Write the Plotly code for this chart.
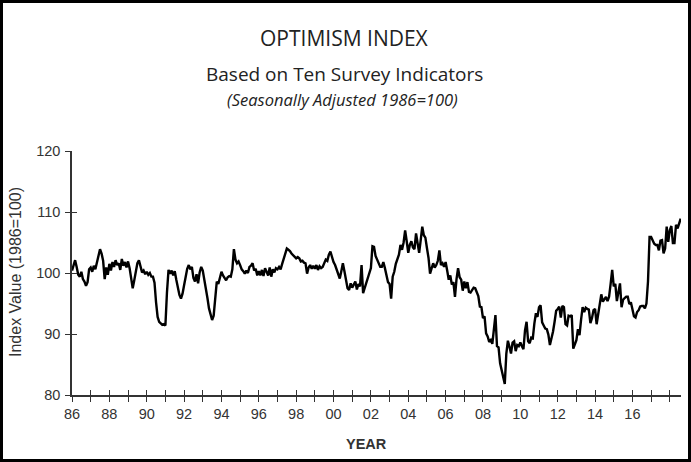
import plotly.graph_objects as go

# ---- Data: monthly index values (seasonally adjusted, 1986=100) ----
start_year = 1986
v1986 = [100.4, 101.5, 102.1, 101.0, 99.7, 99.4, 100.2, 99.0, 98.6, 97.9, 98.5, 100.6]
v1987 = [100.9, 100.2, 101.2, 100.6, 101.6, 102.8, 103.9, 103.2, 102.0, 99.0, 100.9, 99.7]
v1988 = [101.5, 100.4, 101.8, 101.0, 102.1, 101.3, 101.6, 100.5, 102.3, 101.2, 101.8, 100.9]
v1989 = [101.9, 100.8, 99.2, 97.5, 98.8, 100.6, 101.6, 102.1, 101.0, 100.1, 100.4, 99.8]
v1990 = [100.2, 99.7, 100.0, 99.4, 99.4, 98.4, 95.2, 92.8, 92.0, 91.8, 91.5, 91.6]
v1991 = [91.4, 96.8, 100.5, 99.9, 100.4, 99.6, 100.3, 98.9, 97.6, 96.4, 95.8, 96.6]
v1992 = [98.0, 99.6, 100.7, 101.3, 100.6, 101.0, 99.2, 98.6, 99.8, 98.3, 100.1, 101.0]
v1993 = [100.4, 98.9, 97.6, 95.9, 94.2, 93.1, 92.3, 93.0, 95.8, 98.6, 98.2, 99.1]
v1994 = [100.2, 99.6, 99.2, 98.8, 99.3, 99.5, 99.4, 100.6, 103.9, 102.2, 101.6, 101.9]
v1995 = [101.3, 100.6, 100.3, 99.9, 100.4, 100.0, 101.0, 101.2, 101.6, 100.4, 100.7, 99.6]
v1996 = [100.3, 99.6, 100.5, 99.5, 100.8, 100.0, 99.6, 100.9, 99.4, 100.6, 100.1, 100.8]
v1997 = [100.6, 101.0, 100.6, 101.5, 102.3, 103.2, 104.0, 103.8, 103.6, 103.2, 102.9, 102.6]
v1998 = [102.4, 102.6, 102.4, 101.9, 102.0, 101.7, 101.6, 99.9, 100.9, 101.3, 100.7, 101.2]
v1999 = [100.7, 101.3, 100.5, 101.1, 100.8, 101.0, 101.6, 102.2, 102.0, 103.0, 103.5, 102.6]
v2000 = [101.8, 101.3, 100.6, 100.1, 99.1, 100.3, 101.6, 100.3, 98.7, 97.5, 97.2, 98.3]
v2001 = [97.6, 98.0, 98.6, 97.3, 98.2, 97.8, 101.3, 96.7, 97.5, 98.4, 99.2, 100.0]
v2002 = [100.8, 104.4, 104.3, 102.8, 102.1, 101.4, 101.0, 101.0, 101.8, 100.8, 99.4, 98.5]
v2003 = [98.2, 95.8, 99.4, 100.2, 101.5, 102.1, 103.0, 104.6, 103.8, 105.0, 107.0, 105.2]
v2004 = [103.3, 104.6, 105.2, 104.2, 103.9, 106.5, 104.8, 103.3, 105.4, 107.6, 106.2, 105.8]
v2005 = [104.1, 102.5, 99.9, 100.8, 101.6, 100.9, 101.3, 102.0, 103.7, 101.3, 101.6, 101.0]
v2006 = [101.8, 100.4, 98.9, 99.6, 98.1, 98.5, 96.1, 99.0, 100.8, 99.3, 98.9, 97.1]
v2007 = [98.6, 97.5, 98.5, 96.9, 96.8, 97.2, 97.6, 97.5, 96.8, 96.2, 94.5, 94.4]
v2008 = [92.6, 92.9, 90.1, 89.6, 88.7, 89.0, 88.4, 91.3, 93.1, 88.0, 87.8, 85.2]
v2009 = [84.1, 82.6, 81.8, 86.8, 88.9, 87.9, 86.8, 88.6, 88.8, 87.2, 88.2, 88.0]
v2010 = [88.6, 88.0, 87.5, 90.6, 92.0, 88.8, 88.5, 89.4, 89.3, 91.7, 93.4, 92.8]
v2011 = [94.4, 94.7, 91.9, 91.4, 90.9, 90.8, 89.9, 88.2, 89.2, 90.4, 92.0, 93.8]
v2012 = [94.1, 94.5, 92.7, 94.6, 94.4, 91.6, 91.4, 93.0, 92.9, 93.1, 87.6, 88.3]
v2013 = [89.0, 90.8, 89.8, 92.3, 94.4, 93.6, 94.3, 94.1, 94.0, 91.8, 92.6, 93.9]
v2014 = [94.1, 91.6, 93.5, 95.3, 96.5, 95.3, 95.8, 96.1, 95.4, 96.1, 98.2, 100.5]
v2015 = [97.8, 98.2, 95.4, 96.9, 98.3, 94.4, 95.6, 95.9, 96.1, 96.1, 94.9, 95.2]
v2016 = [93.9, 92.9, 92.7, 93.6, 93.9, 94.5, 94.6, 94.6, 94.2, 95.0, 98.6, 105.9]
v2017 = [105.9, 105.4, 104.8, 104.6, 104.6, 103.7, 105.3, 105.4, 103.2, 104.0, 107.6, 105.1]
v2018 = [107.0, 107.7, 104.9, 104.9, 107.9, 107.3, 108.0, 108.9]

tick_years = list(range(1986, 2019))
tick_labels = [f"{yr % 100:02d}" if (yr % 2 == 0 and yr <= 2016) else "" for yr in tick_years]
y_ticks = [80, 90, 100, 110, 120]
y_tick_labels = ["80", "90", "100", "110", "120"]

title_text = "OPTIMISM INDEX"
subtitle_text = "Based on Ten Survey Indicators"
note_text = "(Seasonally Adjusted 1986=100)"
y_title = "Index Value (1986=100)"
x_title = "YEAR"

series = (v1986 + v1987 + v1988 + v1989 + v1990 + v1991 + v1992 + v1993 + v1994 +
          v1995 + v1996 + v1997 + v1998 + v1999 + v2000 + v2001 + v2002 + v2003 +
          v2004 + v2005 + v2006 + v2007 + v2008 + v2009 + v2010 + v2011 + v2012 +
          v2013 + v2014 + v2015 + v2016 + v2017 + v2018)
x = [start_year + i / 12 for i in range(len(series))]

X_RANGE = [1986, 2018.6]
Y_RANGE = [80, 120]
AX = "#333333"

fig = go.Figure()
fig.add_trace(go.Scatter(x=x, y=series, mode="lines",
                         line=dict(color="#000000", width=2.4),
                         hoverinfo="skip", showlegend=False))
# invisible trace to carry the overlay axes (ticks crossing the axis lines)
fig.add_trace(go.Scatter(x=[x[0]], y=[series[0]], xaxis="x2", yaxis="y2",
                         mode="markers", marker=dict(opacity=0),
                         hoverinfo="skip", showlegend=False))

fig.update_layout(
    width=691, height=462,
    margin=dict(l=72, r=10, t=151, b=67),
    paper_bgcolor="white", plot_bgcolor="white",
    showlegend=False,
    font=dict(family="Liberation Sans, Arial, sans-serif", color=AX),
    xaxis=dict(range=X_RANGE, tickmode="array", tickvals=tick_years, ticktext=tick_labels,
               ticks="outside", ticklen=5, tickwidth=1.3, tickcolor=AX,
               showline=True, linecolor=AX, linewidth=1.5,
               showgrid=False, zeroline=False,
               tickfont=dict(size=14.5, color=AX), ticklabelstandoff=0),
    xaxis2=dict(range=X_RANGE, overlaying="x", anchor="y2", side="bottom",
                tickmode="array", tickvals=tick_years, ticks="inside", ticklen=5,
                tickwidth=1.3, tickcolor=AX, showticklabels=False,
                showline=False, showgrid=False, zeroline=False),
    yaxis=dict(range=Y_RANGE, tickmode="array", tickvals=y_ticks, ticktext=y_tick_labels,
               ticks="outside", ticklen=5, tickwidth=1.3, tickcolor=AX,
               showline=True, linecolor=AX, linewidth=1.5,
               showgrid=False, zeroline=False,
               tickfont=dict(size=14.5, color=AX), ticklabelstandoff=2),
    yaxis2=dict(range=Y_RANGE, overlaying="y", anchor="x2", side="left",
                tickmode="array", tickvals=y_ticks, ticks="inside", ticklen=5,
                tickwidth=1.3, tickcolor=AX, showticklabels=False,
                showline=False, showgrid=False, zeroline=False),
)

PW, PH, L, B = 609.0, 244.0, 72.0, 395.0
def px(xp):
    return (xp - L) / PW
def py(yp):
    return (B - yp) / PH

anns = [
    dict(text=title_text, x=px(344), y=py(38), font=dict(family="Open Sans", size=21, color="#222")),
    dict(text=subtitle_text, x=px(344), y=py(74), font=dict(family="Open Sans", size=19, color="#222")),
    dict(text=f"<i>{note_text}</i>", x=px(342), y=py(100), font=dict(family="Open Sans", size=16.5, color="#222")),
    dict(text=f"<b>{x_title}</b>", x=px(366), y=py(444), font=dict(size=14.5, color=AX)),
    dict(text=y_title, x=px(15), y=py(272), textangle=-90, font=dict(size=16, color=AX)),
]
for a in anns:
    fig.add_annotation(xref="paper", yref="paper", showarrow=False,
                       xanchor="center", yanchor="middle", **a)

fig.add_shape(type="rect", xref="paper", yref="paper",
              x0=px(1.5), x1=px(689.5), y0=py(460.5), y1=py(1.5),
              line=dict(color="#000000", width=3), fillcolor="rgba(0,0,0,0)")

fig.write_html("out.html", config={"displayModeBar": False},
               post_script="document.body.style.margin='0px';document.body.style.overflow='hidden';")
